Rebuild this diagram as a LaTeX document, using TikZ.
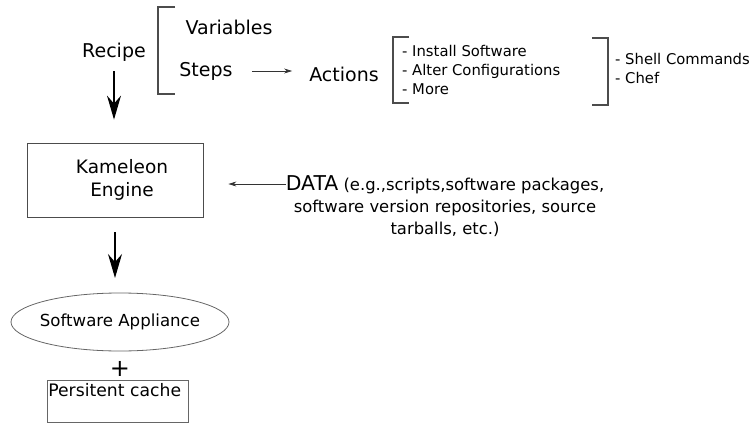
\documentclass[tikz,border=0pt]{standalone}
\usepackage{fontspec}
\setmainfont{DejaVu Sans}
\usepackage{tikz}
\usetikzlibrary{shapes.geometric}
\usetikzlibrary{arrows.meta,positioning}
\tikzset{big text/.style={inner sep=0pt, font=\fontsize{19}{23}\selectfont}}
\tikzset{small text/.style={inner sep=0pt, align=left, font=\fontsize{14.8}{18.7}\selectfont}}
\tikzset{engine box/.style={rectangle, draw=black!70, thick, minimum width=176pt, minimum height=74pt,
    align=center, font=\fontsize{18.5}{23}\selectfont}}
\tikzset{appliance node/.style={inner sep=0pt, font=\fontsize{16.6}{20}\selectfont}}
\tikzset{appliance ring/.style={draw=black!60, thick}}
\tikzset{cache box/.style={rectangle, draw=black!60, thick, minimum width=141pt, minimum height=42pt,
    inner xsep=1pt, inner ysep=3pt, text width=139pt, text depth=23pt, align=left,
    font=\fontsize{17.2}{20}\selectfont}}
\tikzset{main edge/.style={draw=black, line width=1.3pt, -{Stealth[length=24pt,width=14pt,inset=8pt]}}}
\tikzset{thin edge/.style={draw=black!80, line width=0.8pt, -{Stealth[length=8pt,width=5pt]}}}
\tikzset{bracket/.style={draw=black!70, line width=1.1pt}}
\newcommand{\datatext}{{\fontsize{20.4}{22}\selectfont DATA} (e.g.,scripts,software packages,\\
  software version repositories, source\\ tarballs, etc.)}

\begin{document}
\begin{tikzpicture}
      [x=1pt, y=-1pt]
      \useasboundingbox (0,0) rectangle (750,423);

      \node [big text]                (recipe)    at (114, 52) {Recipe};
      \node [big text]                (variables) at (229, 27) {Variables};
      \node [big text]                (steps)     at (206, 71) {Steps};
      \node [big text]                (actions)   at (344, 74) {Actions};
      \node [small text, anchor=west] (tasks)     at (402, 70)
        {- Install Software\\- Alter Configurations\\- More};
      \node [small text, anchor=west] (tools)     at (615, 68.5)
        {- Shell Commands\\- Chef};

      \node [engine box]              (engine)    at (115, 180) {\hspace{14pt}Kameleon\\\hspace{14pt}Engine};
      \node [inner sep=0pt, align=center, font=\fontsize{16.4}{22}\selectfont]
                                      (data)      at (445, 206) {\datatext};
      \node [appliance node]          (appliance) at (120, 322) {Software Appliance};
      \node [inner sep=0pt, font=\fontsize{24}{24}\selectfont]
                                      (plus)      at (120, 369) {+};
      \node [cache box, anchor=north west] (cache) at (47, 380) {Persitent cache};

      \draw [appliance ring] (appliance) ellipse [x radius=109, y radius=29];

      % brackets
      \draw [bracket] (175, 7)  -- (158, 7)  -- (158, 94)  -- (175, 94);
      \draw [bracket] (409, 37) -- (393, 37) -- (393, 103) -- (409, 103);
      \draw [bracket] (592, 38) -- (608, 38) -- (608, 105) -- (592, 105);

      % edges
      \draw [main edge, shorten <=10pt, shorten >=23pt] (recipe.south) -- (recipe.south |- engine.north);
      \draw [main edge, shorten <=15pt, shorten >=15pt] (engine) -- (engine |- {(0,293)});
      \draw [thin edge, shorten <=19pt, shorten >=17pt] (steps.east) -- (steps.east -| actions.west);
      \draw [thin edge, shorten >=25pt] ([yshift=22pt]data.west) -- ([yshift=22pt]data.west -| engine.east);
    \end{tikzpicture}
\end{document}
